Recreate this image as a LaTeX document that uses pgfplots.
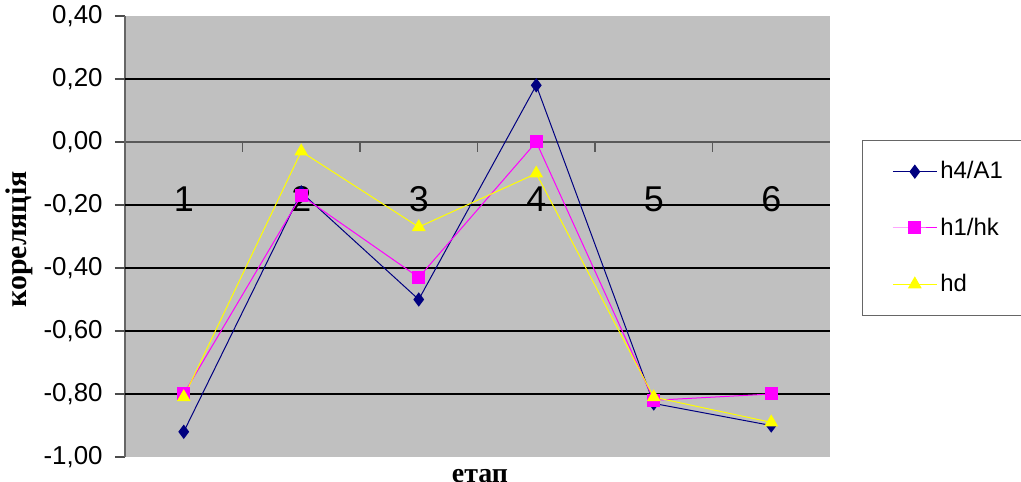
\documentclass[border=0pt]{standalone}
\usepackage{fontspec}
\setmainfont{Liberation Sans}
\newfontfamily\serifbold{Liberation Serif}
\usepackage{pgfplots}
\pgfplotsset{compat=1.18}

\definecolor{plotbg}{RGB}{192,192,192}
\definecolor{sNavy}{RGB}{0,0,128}
\definecolor{sMagenta}{RGB}{255,0,255}
\definecolor{sYellow}{RGB}{255,255,0}

\begin{document}
\begin{tikzpicture}
\begin{axis}[
	scale only axis,
	width=352.5bp,
	height=220.5bp,
	xmin=0.5, xmax=6.5,
	ymin=-1, ymax=0.4,
	axis background/.style={fill=plotbg},
	axis x line=middle,
	axis y line=left,
	x axis line style={-, draw=gray!70!black, line width=0.6bp},
	y axis line style={-, draw=gray!80!black, line width=0.6bp},
	xtick={1,...,6},
	xticklabels={1,2,3,4,5,6},
	major x tick style={draw=none},
	minor xtick={1.5,2.5,3.5,4.5,5.5},
	minor x tick style={draw=gray!70!black, line width=0.6bp},
	minor tick length=5bp,
	xtick align=outside,
	xticklabel style={font=\fontsize{18}{20}\selectfont, anchor=north, inner sep=0pt, yshift=-17bp},
	ytick={-1,-0.8,-0.6,-0.4,-0.2,0,0.2,0.4},
	ytick align=outside,
	major tick length=5bp,
	ytick style={draw=black!70, line width=0.6bp},
	yticklabel style={font=\fontsize{13}{15}\selectfont, inner sep=0pt, xshift=-6bp,
		/pgf/number format/.cd, fixed, fixed zerofill, precision=2, use comma, assume math mode=true},
	extra y ticks={-0.8,-0.6,-0.4,-0.2,0.2},
	extra y tick labels={},
	extra y tick style={ymajorgrids=true, major grid style={draw=black, line width=0.6bp}, tick style={draw=none}},
	clip=false,
	legend style={
		at={(rel axis cs:1.045,0.719)}, anchor=north west,
		draw=gray!80!black, fill=white, line width=0.6bp,
		inner xsep=15bp, inner ysep=9bp,
		row sep=15bp,
		font=\fontsize{12}{14}\selectfont,
		nodes={inner sep=1.5bp},
	},
	legend cell align=left,
	legend image code/.code={
		\draw[mark repeat=2, mark phase=2] plot coordinates {(0bp,0bp) (11bp,0bp) (22bp,0bp)};
	},
]
\addplot[sNavy, line width=0.5bp, mark=diamond*, mark size=3.2bp, mark options={solid, fill=sNavy, draw=sNavy}]
coordinates {(1,-0.92) (2,-0.16) (3,-0.50) (4,0.18) (5,-0.83) (6,-0.90)};
\addlegendentry{h4/A1}
\addplot[sMagenta, line width=0.5bp, mark=square*, mark size=3bp, mark options={solid, fill=sMagenta, draw=sMagenta}]
coordinates {(1,-0.80) (2,-0.17) (3,-0.43) (4,0.00) (5,-0.82) (6,-0.80)};
\addlegendentry{h1/hk}
\addplot[sYellow, line width=0.5bp, mark=triangle*, mark size=3.5bp, mark options={solid, fill=sYellow, draw=sYellow}]
coordinates {(1,-0.81) (2,-0.03) (3,-0.27) (4,-0.10) (5,-0.81) (6,-0.89)};
\addlegendentry{hd}
\end{axis}
\node[rotate=90, anchor=base, font=\serifbold\bfseries\fontsize{15}{17}\selectfont] at (-49bp,108.75bp) {кореляція};
\node[anchor=base, font=\serifbold\bfseries\fontsize{14}{16}\selectfont] at (177.5bp,-12.5bp) {етап};
\pgfresetboundingbox
\path (-62.5bp,-12.5bp) rectangle (448bp,228.5bp);
\end{tikzpicture}
\end{document}
